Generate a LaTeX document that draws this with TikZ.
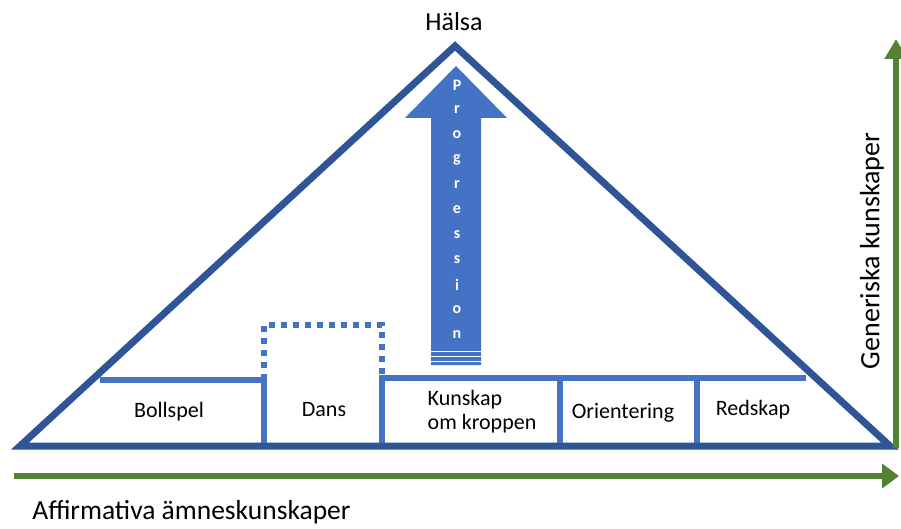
\documentclass[tikz,border=0pt]{standalone}
\usepackage{fontspec}
\setmainfont{Carlito}
\usetikzlibrary{arrows.meta}
\definecolor{xanhdam}{HTML}{2F5597}
\definecolor{xanhnhat}{HTML}{4472C4}
\definecolor{xanhla}{HTML}{548235}
\begin{document}
\begin{tikzpicture}[x=1pt,y=-1pt,join=miter,line width=6pt]
			\useasboundingbox (0,0) rectangle (901,529);
			\def\day{446} % đáy
			\def\ke{378} % kệ
			\def\co{22pt} % cỡ chữ ô
			\coordinate[] (A) at (20,\day);
			\coordinate[] (B) at (890,\day);
			\coordinate[] (S) at (455,46);
			% mũi tên progression
			\fill[xanhnhat] (431,365)--(431,118)--(405,118)--(456,66)--(507,118)--(481,118)--(481,365)--cycle;
			\foreach \y in {351,356,361}\draw[white,line width=1pt] (431,\y)--(481,\y);
			\foreach \ch [count=\i] in {P,r,o,g,r,e,s,s,i,o,n}
				\node[white,font=\bfseries\fontsize{16}{16}\selectfont] (p\i) at (457,{85+25*(\i-1)}) {\ch};
			% các ô
			\draw[xanhnhat] (100,380)--(264,380)--(264,\day);
			\draw[xanhnhat,dash pattern=on 6pt off 6pt] (264,380)--(264,325)--(382,325)--(382,\ke);
			\draw[xanhnhat] (382,\day)--(382,\ke)--(806,\ke);
			\foreach \x in {560,697}\draw[xanhnhat] (\x,\ke)--(\x,\day);
			\draw[xanhdam,line width=7pt] (A)--(S)--(B)--cycle;
			\node[font=\fontsize{\co}{\co}\selectfont] (bs) at (169,412) {Bollspel};
			\node[font=\fontsize{\co}{\co}\selectfont] (da) at (324,410) {Dans};
			\node[font=\fontsize{\co}{24pt}\selectfont,align=left] (kk) at (482,412) {Kunskap\\om kroppen};
			\node[font=\fontsize{\co}{\co}\selectfont] (or) at (623,413) {Orientering};
			\node[font=\fontsize{\co}{\co}\selectfont] (re) at (753,410) {Redskap};
			\node[font=\fontsize{26}{26}\selectfont] (ha) at (454,22) {Hälsa};
			% trục xanh lá
			\coordinate[] (h0) at (14,476);
			\coordinate[] (h1) at (899,476);
			\coordinate[] (v0) at (896,448);
			\coordinate[] (v1) at (896,39);
			\draw[xanhla,-{Triangle[length=17pt,width=24pt]}] (h0)--(h1);
			\draw[xanhla,-{Triangle[length=20pt,width=22pt]}] (v0)--(v1);
			\node[font=\fontsize{27.5}{27.5}\selectfont,anchor=west] (am) at (26,512) {Affirmativa ämneskunskaper};
			\node[font=\fontsize{28}{28}\selectfont,rotate=90] (gk) at (872,251) {Generiska kunskaper};
			\end{tikzpicture}
\end{document}
